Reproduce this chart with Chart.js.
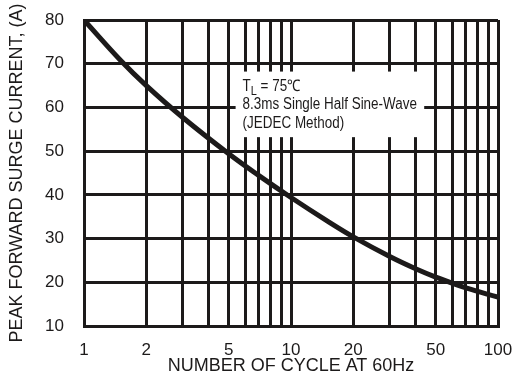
<!DOCTYPE html>
<html>
<head>
<meta charset="utf-8">
<script src="https://cdn.jsdelivr.net/npm/chart.js@4"></script>
<style>
  html, body { margin: 0; padding: 0; background: #fff; }
  #wrap { width: 516px; height: 382px; }
</style>
</head>
<body>
<div id="wrap"><canvas id="surge-canvas" width="516" height="382"></canvas></div>
<script>
// curve
const cycles = [1, 1.5, 2, 3, 5, 7, 10, 15, 20, 30, 40, 50, 70, 100];
const surgeCurrent = [80, 70.8, 65.0, 57.7, 49.4, 44.4, 39.4, 34.0, 30.4, 25.9, 23.1, 21.2, 18.7, 16.6];

// grid + labels
const gridCycles = [1, 2, 3, 4, 5, 6, 7, 8, 9, 10, 20, 30, 40, 50, 60, 70, 80, 90, 100];
const labeledCycles = [1, 2, 5, 10, 20, 50, 100];
const currentTicks = [10, 20, 30, 40, 50, 60, 70, 80];

const noteLines = ['8.3ms Single Half Sine-Wave', '(JEDEC Method)'];

const FONT = "'Liberation Sans', Arial, sans-serif";
const INK = '#1c1a1a';

// white note box that blanks out the grid behind the text
const noteBox = {
    id: 'noteBox',
    beforeDatasetsDraw(chart) {
        const { ctx, scales: { x, y } } = chart;
        const left = x.getPixelForValue(5.4);
        const right = x.getPixelForValue(44);
        const top = y.getPixelForValue(68.2);
        const bottom = y.getPixelForValue(53.2);
        ctx.save();
        ctx.fillStyle = '#fff';
        ctx.fillRect(left, top, right - left, bottom - top);
        ctx.restore();
    },
    afterDatasetsDraw(chart) {
        const { ctx, scales: { x, y } } = chart;
        const tx = x.getPixelForValue(5.4) + 7;
        let ty = y.getPixelForValue(68.2) + 19;
        ctx.save();
        // squeeze the text like the narrow face on the datasheet
        ctx.translate(tx, 0);
        ctx.scale(0.84, 1);
        ctx.fillStyle = INK;
        ctx.textBaseline = 'alphabetic';
        ctx.font = '16px ' + FONT;
        ctx.fillText('T', 0, ty);
        let w = ctx.measureText('T').width;
        ctx.font = '13px ' + FONT;
        ctx.fillText('L', w, ty + 4);
        w += ctx.measureText('L').width;
        ctx.font = '16px ' + FONT;
        ctx.fillText(' = 75\u2103', w, ty);
        for (const line of noteLines) {
            ty += 18.5;
            ctx.fillText(line, 0, ty);
        }
        ctx.restore();
    }
};

// keep the label overhang from shrinking the plot box
function noOverhang(axis) {
    axis.paddingTop = 0;
    axis.paddingBottom = 0;
    axis.paddingLeft = 0;
    axis.paddingRight = 0;
}

const ctx = document.getElementById('surge-canvas').getContext('2d');

const myChart = new Chart(ctx, {
    type: 'line',
    data: {
        datasets: [{
            data: cycles.map((c, i) => ({ x: c, y: surgeCurrent[i] })),
            borderColor: INK,
            borderWidth: 5,
            pointRadius: 0,
            tension: 0.4,
            fill: false
        }]
    },
    options: {
        responsive: false,
        animation: false,
        layout: { padding: { left: 0, right: 18, top: 20, bottom: 0 } },
        plugins: {
            legend: { display: false },
            tooltip: { enabled: false }
        },
        scales: {
            x: {
                type: 'logarithmic',
                min: 1,
                max: 100,
                afterBuildTicks: axis => { axis.ticks = gridCycles.map(v => ({ value: v })); },
                afterFit: axis => { axis.height = 56; noOverhang(axis); },
                ticks: {
                    autoSkip: false,
                    maxRotation: 0,
                    padding: 14,
                    color: INK,
                    font: { family: FONT, size: 17 },
                    callback: v => labeledCycles.includes(v) ? String(v) : ''
                },
                grid: { color: INK, lineWidth: 3, drawTicks: false },
                border: { color: INK, width: 3 },
                title: {
                    display: true,
                    text: 'NUMBER OF CYCLE AT 60Hz',
                    color: INK,
                    font: { family: FONT, size: 18 },
                    padding: { top: 0, bottom: 5 }
                }
            },
            y: {
                min: 10,
                max: 80,
                afterBuildTicks: axis => { axis.ticks = currentTicks.map(v => ({ value: v })); },
                afterFit: axis => { axis.width = 84; noOverhang(axis); },
                ticks: {
                    padding: 20,
                    color: INK,
                    font: { family: FONT, size: 17 }
                },
                grid: { color: INK, lineWidth: 3, drawTicks: false },
                border: { color: INK, width: 3 },
                title: {
                    display: true,
                    text: 'PEAK FORWARD SURGE CURRENT, (A)',
                    color: INK,
                    font: { family: FONT, size: 18 },
                    padding: { top: 6, bottom: 0 }
                }
            }
        }
    },
    plugins: [noteBox]
});
</script>
</body>
</html>
